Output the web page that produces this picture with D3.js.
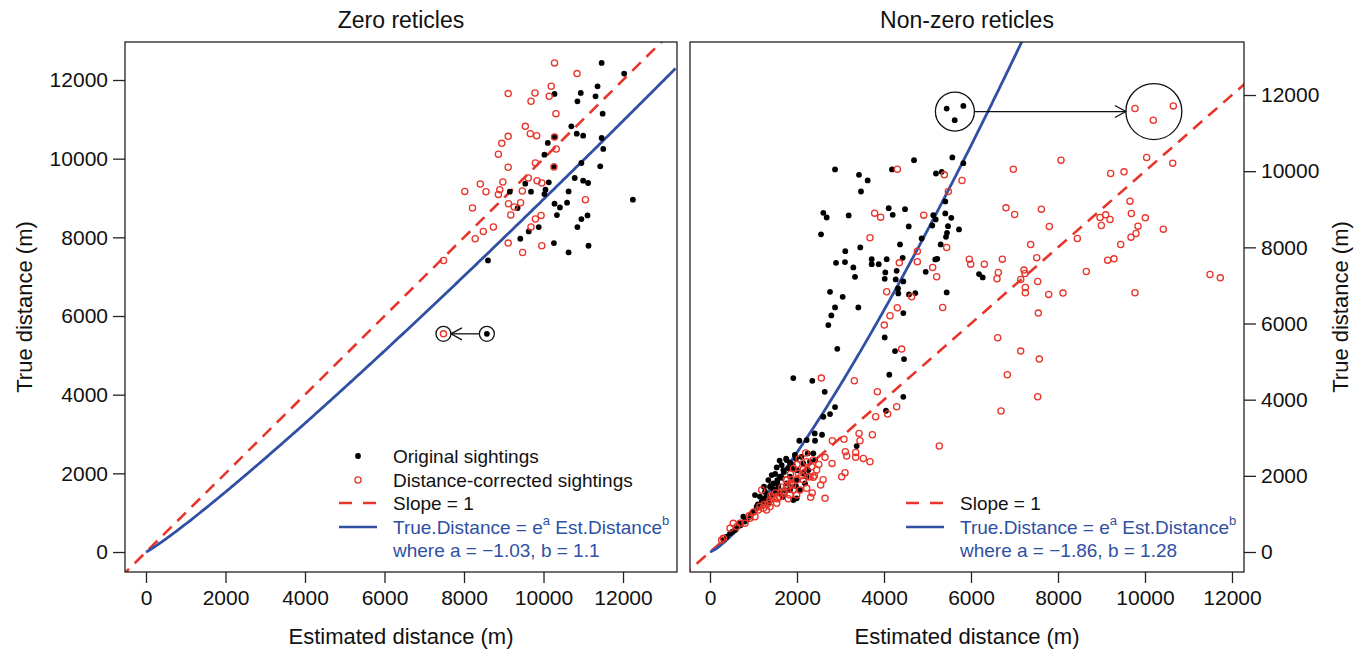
<!DOCTYPE html>
<html>
<head>
<meta charset="utf-8">
<script src="https://cdn.jsdelivr.net/npm/d3@7"></script>
<style>
body { margin: 0; background: #fff; }
text { font-family: "Liberation Sans", Arial, Helvetica, sans-serif; fill: #111; }
</style>
</head>
<body>
<div id="chart"></div>
<script>
// tick values (both axes, both panels)
var xTicks = [0, 2000, 4000, 6000, 8000, 10000, 12000];
var yTicks = [0, 2000, 4000, 6000, 8000, 10000, 12000];

// fitted model: True = e^a * Est^b
var fitA = [-1.03, -1.86];
var fitB = [1.1, 1.28];

// Zero reticles: [estimated, true]
var zeroOriginal = [
  [11462,12435],[12029,12163],[11359,11840],[10937,11671],[11309,11586],[10277,11646],[10853,11458],
  [11488,11145],[10700,10822],[10836,10636],[10997,10585],[10277,10552],[11462,10526],[10108,10399],
  [11503,10247],[10023,10102],[10953,9890],[10262,9805],[11427,9805],[10785,9508],[10997,9440],
  [11122,9381],[9542,9364],[10133,9398],[9152,9160],[9685,9160],[10050,9211],[10023,9101],[10631,9168],
  [12248,8957],[10277,8855],[10413,8761],[10592,8880],[9348,8745],[10337,8567],[11107,8558],[10953,8465],
  [9880,8262],[9628,8151],[10853,8262],[9416,7964],[10262,7853],[10631,7616],[11132,7786],[8603,7413],
  [8575,5547]
];
var zeroCorrected = [
  [10277,12435],[10843,12163],[10194,11840],[9786,11671],[10143,11586],[9111,11654],[9685,11458],
  [10312,11145],[9542,10822],[9668,10636],[9829,10585],[9111,10568],[10277,10552],[8950,10390],
  [10320,10247],[8865,10111],[9796,9890],[9111,9780],[10262,9788],[9617,9508],[9838,9440],
  [9957,9381],[8409,9356],[8976,9407],[8019,9168],[8553,9160],[8900,9211],[8865,9092],[9467,9177],
  [11054,8957],[9119,8855],[9263,8770],[9424,8880],[8213,8745],[9177,8567],[9939,8558],[9796,8465],
  [8739,8262],[8485,8151],[9685,8262],[8281,7964],[9111,7853],[9474,7616],[9957,7786],[7485,7413],
  [7483,5547]
];
var zeroMarkedOriginal = [[8575,5547]];
var zeroMarkedCorrected = [[7483,5547]];

// Non-zero reticles: [estimated, true]
var nonzeroOriginal = [
  [2874,10045],[3425,9903],[3625,9756],[3471,9467],[4690,10289],[5195,9939],[5326,9982],[5571,10360],
  [5824,10210],[4184,10045],[2605,8906],[2682,8784],[3188,8837],[4108,9029],[4200,8854],[4483,9003],
  [2552,8341],[3110,7900],[2897,7593],[3103,7612],[3455,7997],[3717,7690],[3717,7559],[3878,7559],
  [4062,7690],[3295,7472],[3333,7226],[4030,7341],[4016,7174],[4368,8076],[4429,7725],[4291,7383],
  [4269,7157],[4444,7105],[4322,6921],[4329,6790],[4575,6764],[4720,6798],[4568,8548],[4866,8233],
  [5133,8845],[5188,8732],[5110,8574],[5409,9205],[5409,8890],[5547,8775],[5471,8556],[5448,8381],
  [5425,8276],[5303,8076],[5225,7698],[5179,7682],[5724,8470],[4959,7357],[5441,6816],[4444,6273],
  [3050,6701],[2759,6832],[2874,6422],[3410,6422],[2789,6212],[2720,5958],[4016,5635],[2926,5336],
  [4253,5276],[4460,5066],[1915,4567],[2352,4496],[2637,4207],[4122,4654],[4444,4076],[2874,3806],
  [2759,3622],[2605,3551],[4046,3709],[2407,3115],[2575,3079],[2053,2921],[2223,2940],[2414,2921],
  [3372,2782],[2246,2591],[2375,2591],[6184,7297],[6269,7210],
  [1762,2415],[1839,2345],[1977,2450],[1533,2222],[1686,2152],[1609,1977],[1548,1890],[1456,1802],
  [1379,1715],[1494,1627],[1609,1540],[1441,1496],[1318,1409],[1188,1321],[1073,1190],[996,1059],
  [920,927],[843,840],[651,682],[575,577],[460,490],[383,402],[307,315],[1762,1802],[1839,1627],
  [1992,1890],[2146,2065],[2146,2327],[2299,2371],[2414,2415],[1992,1409],[1916,1365],[2261,2152],
  [2222,1977],[2184,1802],[2069,1627],[1571,1715],[1724,1627],[1839,1977],[1264,1584],[1149,1452],
  [1648,2283],[1916,2196],[1341,1890],[1241,1715],[1034,1496],[1977,1732],[1418,2021],[766,927],
  [690,770],[521,534],[1300,1500],[1450,1650],[1550,1800],[1650,1950],[1700,2100],[1800,2200],
  [1900,2300],[1600,2400],[1500,2050],[1400,1750],[1250,1400],[1100,1250],[950,1000],[800,800],
  [700,700],[600,620],[1850,1700],[2000,2150],[1750,2450],[1950,2550],[2100,2500],[1680,1450],
  [1350,1300],
  [5441,11645],[5824,11714],[5625,11339]
];
var nonzeroCorrected = [
  [4307,10052],[5387,9903],[5793,9756],[5479,9467],[3785,8898],[3923,8793],[4912,8845],[3678,8250],
  [4766,7900],[4766,7620],[4352,7593],[5119,7472],[5211,7226],[5441,7997],[5961,7690],[5993,7559],
  [6306,7559],[4062,6832],[4636,6701],[4307,6412],[5349,6422],[4138,6202],[4007,5958],[4406,5328],
  [2559,4567],[3318,4496],[3847,4207],[4084,3622],[4291,3814],[3808,3551],[3732,3079],[3080,2958],
  [2812,2921],[5271,2782],
  [3426,3115],[3448,2922],[2644,2485],[2805,2327],[3111,2633],[3142,2520],[3349,2616],[3349,2485],
  [3525,2458],[3678,2371],[3027,1977],[3103,2082],[2544,1759],[2644,1409],[2314,1435],
  [2222,2371],[2337,2240],[2452,2152],[2146,2170],[2031,2065],[1916,2196],[2261,1977],[2375,1960],
  [2146,1890],[1992,1890],[1839,1802],[1762,1715],[1916,1627],[2069,1627],[2222,1671],[1686,1540],
  [1609,1452],[1456,1435],[1379,1365],[1839,1496],[1992,1496],[1533,1277],[1379,1190],[1226,1146],
  [1111,1102],[1034,927],[920,884],[805,752],[690,752],[613,665],[536,752],[460,621],[307,359],
  [268,315],[1188,1627],[2299,1977],[2375,2415],[1762,1890],[1341,1277],
  [1500,1550],[1650,1700],[1750,1900],[1850,2050],[2000,2300],[2100,2000],[1900,1750],[1700,1600],
  [1550,1400],[1400,1480],[1250,1250],[1150,1200],[1000,1050],[900,950],[2400,2000],[2500,2300],
  [2200,2600],[2050,2450],[1800,1400],[1300,1100],[2350,1550],[2600,1900],
  [8069,10289],[6973,10052],[6805,9037],[7004,8863],[7617,9003],[7800,8548],[7372,8076],[7510,7725],
  [6720,7690],[6628,7341],[6598,7174],[7142,7157],[7218,7402],[7241,7315],[7533,7105],[7249,6947],
  [7249,6806],[7786,6764],[8115,6798],[8444,8233],[8651,7367],[7548,6273],[6613,5625],[7142,5276],
  [7570,5066],[6835,4654],[7533,4076],[6690,3701],
  [8966,8784],[9096,8853],[9195,8732],[8996,8575],[9211,9939],[9517,9982],[10038,10360],[10637,10210],
  [9655,9213],[9686,8890],[10007,8775],[9839,8556],[9793,8364],[9678,8268],[9441,8076],[9287,7698],
  [9142,7664],[10421,8478],[9770,6806],[11494,7288],[11731,7199],
  [9770,11645],[10651,11714],[10191,11339]
];
var nonzeroMarkedOriginal = [[5441,11645],[5824,11714],[5625,11339]];
var nonzeroMarkedCorrected = [[9770,11645],[10651,11714],[10191,11339]];

var W = 1363, H = 654;
var RED = "#e8352b", BLUE = "#2f50a3";
var plotTop = 42, plotBottom = 572;

var panels = [
  { title: "Zero reticles", orig: zeroOriginal, corr: zeroCorrected,
    markO: zeroMarkedOriginal, markC: zeroMarkedCorrected, ringO: 7.5, ringC: 7.5,
    a: fitA[0], b: fitB[0], x0: 125, x1: 677, xDom: [-528, 13358], yDom: [-508, 12966],
    side: "left", fullLegend: true },
  { title: "Non-zero reticles", orig: nonzeroOriginal, corr: nonzeroCorrected,
    markO: nonzeroMarkedOriginal, markC: nonzeroMarkedCorrected, ringO: 19.5, ringC: 28,
    a: fitA[1], b: fitB[1], x0: 690, x1: 1244, xDom: [-460, 12276], yDom: [-525, 13392],
    side: "right", fullLegend: false }
];

var svg = d3.select("#chart").append("svg")
    .attr("width", W)
    .attr("height", H);

var defs = svg.append("defs");

panels.forEach(function(p, i) {
  var x = d3.scaleLinear().domain(p.xDom).range([p.x0, p.x1]);
  var y = d3.scaleLinear().domain(p.yDom).range([plotBottom, plotTop]);

  defs.append("clipPath").attr("id", "clip" + i)
    .append("rect")
    .attr("x", p.x0).attr("y", plotTop)
    .attr("width", p.x1 - p.x0).attr("height", plotBottom - plotTop);

  var g = svg.append("g");
  var plot = g.append("g").attr("clip-path", "url(#clip" + i + ")");

  // slope = 1 line
  plot.append("line")
    .attr("x1", x(-1000)).attr("y1", y(-1000))
    .attr("x2", x(15000)).attr("y2", y(15000))
    .attr("stroke", RED).attr("stroke-width", 2.6)
    .attr("stroke-dasharray", "12,8");

  // fitted curve
  var curve = d3.range(0, p.xDom[1] + 1, 40).map(function(e) {
    return [e, Math.exp(p.a) * Math.pow(e, p.b)];
  }).filter(function(d) { return d[1] < p.yDom[1] * 1.1; });
  plot.append("path")
    .datum(curve)
    .attr("d", d3.line().x(function(d) { return x(d[0]); }).y(function(d) { return y(d[1]); }))
    .attr("fill", "none").attr("stroke", BLUE).attr("stroke-width", 2.8);

  // original sightings
  plot.selectAll(".orig").data(p.orig).enter().append("circle")
    .attr("class", "orig")
    .attr("cx", function(d) { return x(d[0]); })
    .attr("cy", function(d) { return y(d[1]); })
    .attr("r", 2.9)
    .attr("fill", "#000");

  // corrected sightings
  plot.selectAll(".corr").data(p.corr).enter().append("circle")
    .attr("class", "corr")
    .attr("cx", function(d) { return x(d[0]); })
    .attr("cy", function(d) { return y(d[1]); })
    .attr("r", 3.1)
    .attr("fill", "none")
    .attr("stroke", RED).attr("stroke-width", 1.3);

  // rings and arrow for the marked sightings
  var cO = [d3.mean(p.markO, function(d) { return x(d[0]); }), d3.mean(p.markO, function(d) { return y(d[1]); })];
  var cC = [d3.mean(p.markC, function(d) { return x(d[0]); }), d3.mean(p.markC, function(d) { return y(d[1]); })];
  [[cO, p.ringO], [cC, p.ringC]].forEach(function(r) {
    g.append("circle")
      .attr("cx", r[0][0]).attr("cy", r[0][1]).attr("r", r[1])
      .attr("fill", "none").attr("stroke", "#111").attr("stroke-width", 1.3);
  });
  var dir = cC[0] > cO[0] ? 1 : -1;
  var ax0 = cO[0] + dir * p.ringO, ax1 = cC[0] - dir * p.ringC, ay = cO[1];
  g.append("line")
    .attr("x1", ax0).attr("y1", ay).attr("x2", ax1).attr("y2", ay)
    .attr("stroke", "#111").attr("stroke-width", 1.3);
  var hl = dir * 11;
  g.append("path")
    .attr("d", "M" + (ax1 - hl) + "," + (ay - 6) + "L" + ax1 + "," + ay + "L" + (ax1 - hl) + "," + (ay + 6))
    .attr("fill", "none").attr("stroke", "#111").attr("stroke-width", 1.3);

  // axes
  var xAxis = g.append("g")
    .attr("transform", "translate(0," + plotBottom + ")")
    .call(d3.axisBottom(x).tickValues(xTicks).tickSize(11).tickPadding(7).tickFormat(d3.format("d")));
  var yAxis = g.append("g")
    .attr("transform", "translate(" + (p.side == "left" ? p.x0 : p.x1) + ",0)")
    .call((p.side == "left" ? d3.axisLeft(y) : d3.axisRight(y))
      .tickValues(yTicks).tickSize(12).tickPadding(5).tickFormat(d3.format("d")));
  [xAxis, yAxis].forEach(function(ax) {
    ax.select(".domain").remove();
    ax.selectAll(".tick line").attr("stroke", "#222").attr("stroke-width", 1.3);
    ax.selectAll(".tick text").attr("font-size", 21).attr("fill", "#111")
      .style("font-family", "'Liberation Sans', Arial, sans-serif");
  });

  // box
  g.append("rect")
    .attr("x", p.x0).attr("y", plotTop)
    .attr("width", p.x1 - p.x0).attr("height", plotBottom - plotTop)
    .attr("fill", "none").attr("stroke", "#222").attr("stroke-width", 1.3);

  // titles
  g.append("text")
    .attr("x", (p.x0 + p.x1) / 2).attr("y", 20)
    .attr("text-anchor", "middle").attr("dominant-baseline", "central")
    .attr("font-size", 23)
    .text(p.title);
  g.append("text")
    .attr("x", (p.x0 + p.x1) / 2).attr("y", 636)
    .attr("text-anchor", "middle").attr("dominant-baseline", "central")
    .attr("font-size", 22)
    .text("Estimated distance (m)");
  var ly = p.side == "left" ? 24 : 1340;
  g.append("text")
    .attr("transform", "translate(" + ly + "," + ((plotTop + plotBottom) / 2) + ") rotate(-90)")
    .attr("text-anchor", "middle").attr("dominant-baseline", "central")
    .attr("font-size", 22)
    .text("True distance (m)");

  // legend
  var symX = p.x1 - 319, txtX = p.x1 - 284;
  var rows = p.fullLegend ? [456, 480, 503, 527, 550] : [null, null, 503, 527, 550];
  var leg = g.append("g").attr("font-size", 19);
  if (p.fullLegend) {
    leg.append("circle").attr("cx", symX).attr("cy", rows[0]).attr("r", 2.9).attr("fill", "#000");
    leg.append("text").attr("x", txtX).attr("y", rows[0]).attr("dominant-baseline", "central")
      .attr("font-size", 19).text("Original sightings");
    leg.append("circle").attr("cx", symX).attr("cy", rows[1]).attr("r", 3.1)
      .attr("fill", "none").attr("stroke", RED).attr("stroke-width", 1.3);
    leg.append("text").attr("x", txtX).attr("y", rows[1]).attr("dominant-baseline", "central")
      .attr("font-size", 19).text("Distance-corrected sightings");
  }
  leg.append("line").attr("x1", symX - 19).attr("x2", symX + 19)
    .attr("y1", rows[2]).attr("y2", rows[2])
    .attr("stroke", RED).attr("stroke-width", 2.6).attr("stroke-dasharray", "13,11");
  leg.append("text").attr("x", txtX).attr("y", rows[2]).attr("dominant-baseline", "central")
    .attr("font-size", 19).text("Slope = 1");
  leg.append("line").attr("x1", symX - 19).attr("x2", symX + 19)
    .attr("y1", rows[3]).attr("y2", rows[3])
    .attr("stroke", BLUE).attr("stroke-width", 2.6);
  var ft = leg.append("text").attr("x", txtX).attr("y", rows[3] + 7)
    .attr("font-size", 19).style("fill", BLUE);
  ft.append("tspan").text("True.Distance = e");
  ft.append("tspan").attr("dy", -9).attr("font-size", 13).text("a");
  ft.append("tspan").attr("dy", 9).text(" Est.Distance");
  ft.append("tspan").attr("dy", -9).attr("font-size", 13).text("b");
  leg.append("text").attr("x", txtX).attr("y", rows[4]).attr("dominant-baseline", "central")
    .attr("font-size", 19).style("fill", BLUE)
    .text("where a = \u22121" + (p.a == -1.03 ? ".03" : ".86") + ", b = " + p.b);
});
</script>
</body>
</html>
